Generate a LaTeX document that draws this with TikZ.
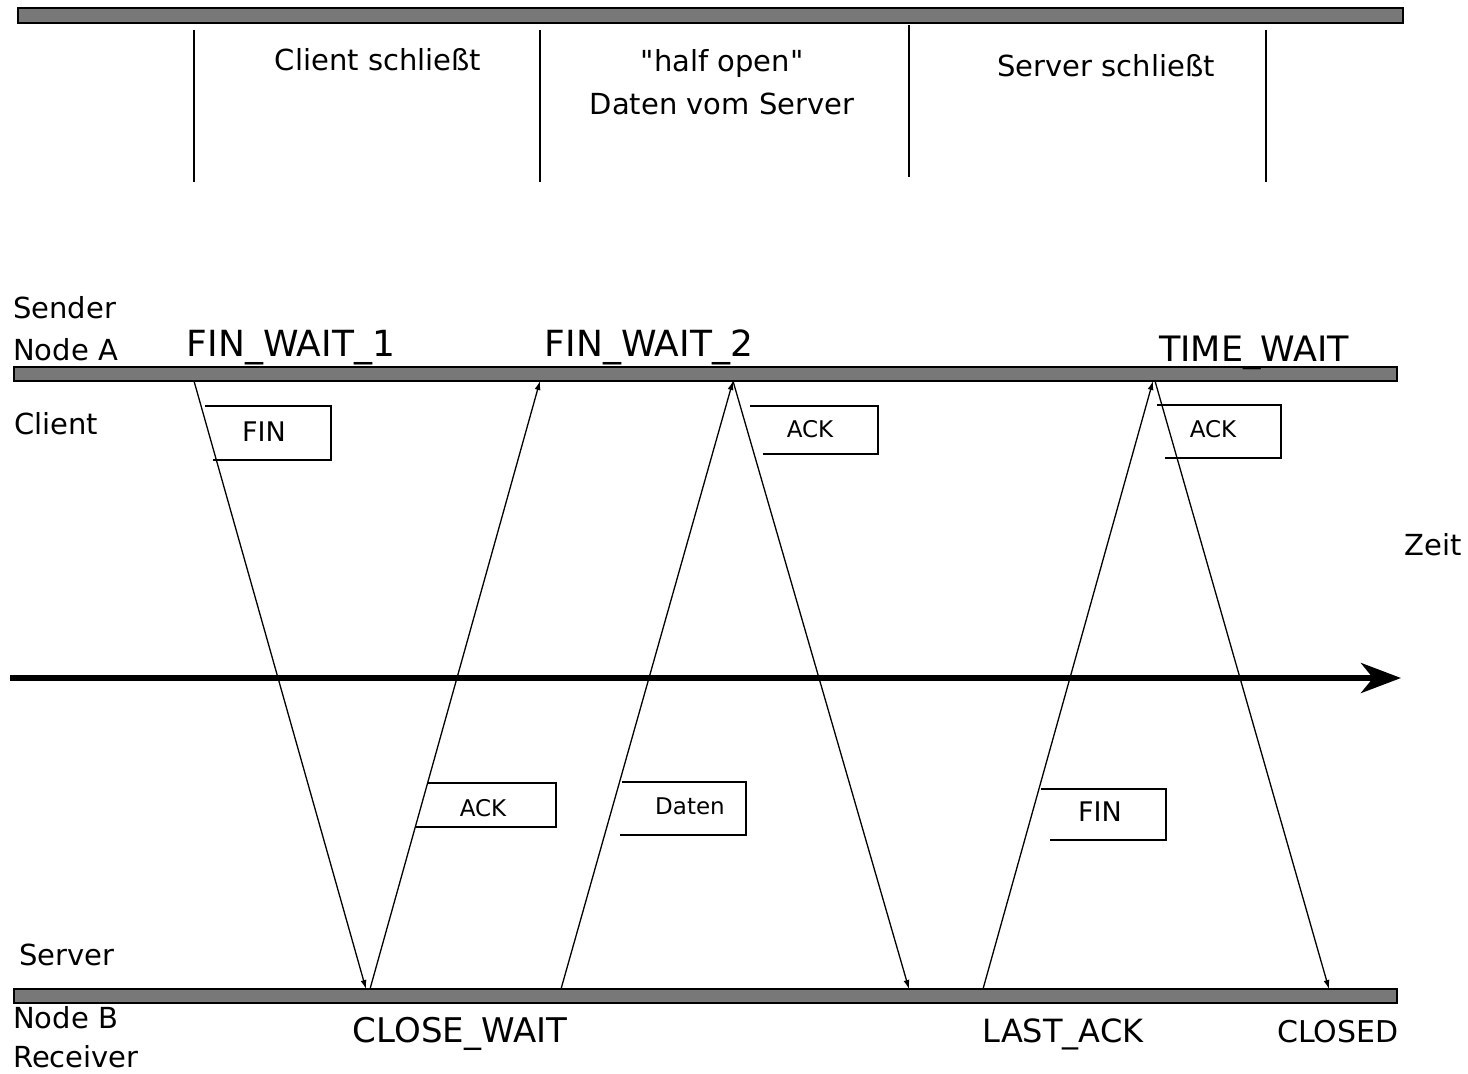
\documentclass[tikz,border=0pt]{standalone}
\usepackage{fontspec}
\setmainfont{DejaVu Sans}[Ligatures=TeXOff]
\usepackage{tikz}
\usetikzlibrary{arrows.meta}
\definecolor{bargray}{RGB}{120,120,120}

\begin{document}
\begin{tikzpicture}[x=1pt,y=-1pt,
        bar/.style={draw=black, line width=1.6pt, fill=bargray},
        sep/.style={line width=2.6pt},
        msg/.style={line width=1.3pt, -{Latex[length=9pt,width=6pt]}},
        tag/.style={line width=1.8pt},
        big/.style={inner sep=0pt, font=\fontsize{29}{43}\selectfont},
        state/.style={inner sep=0pt, anchor=base, font=\fontsize{#1}{40}\selectfont},
        small/.style={inner sep=0pt, font=\fontsize{#1}{28}\selectfont}]
        \useasboundingbox (0,0) rectangle (1468,1074);

        % phases
        \draw[bar] (18,8) rectangle (1403,23);
        \foreach \x/\a/\b in {194/30/182, 540/30/182, 909/25/177, 1266/30/182}
            \draw[sep] (\x,\a) -- (\x,\b);
        \node[big] (hdclient) at (378,60) {Client schließt};
        \node[big, align=center] (hdhalf) at (722,82) {"half open"\\Daten vom Server};
        \node[big] (hdserver) at (1106,66) {Server schließt};

        % the two nodes
        \draw[bar] (14,367) rectangle (1397,381);
        \draw[bar] (14,989) rectangle (1397,1003);
        \node[big, anchor=west] (sender) at (13,308) {Sender};
        \node[big, anchor=west] (nodeA) at (13,350) {Node A};
        \node[big, anchor=west] (client) at (14,424) {Client};
        \node[big, anchor=west] (server) at (19,955) {Server};
        \node[big, anchor=west] (nodeB) at (13,1018) {Node B};
        \node[big, anchor=west] (receiver) at (13,1057) {Receiver};

        % states
        \node[state=36] (finwait1) at (291,356) {FIN\_WAIT\_1};
        \node[state=36] (finwait2) at (649,356) {FIN\_WAIT\_2};
        \node[state=35] (timewait) at (1254,361) {TIME\_WAIT};
        \node[state=34] (closewait) at (460,1042) {CLOSE\_WAIT};
        \node[state=32] (lastack) at (1063,1042) {LAST\_ACK};
        \node[state=30] (closed) at (1338,1042) {CLOSED};

        % time axis
        \coordinate (t0) at (10,678);
        \coordinate (t1) at (1401,678);
        \draw[line width=5.5pt, -{Stealth[length=40pt,width=30pt,inset=12pt]}] (t0) -- (t1);
        \node[big] (zeit) at (1433,545) {Zeit};

        % segments
        \coordinate (a1) at (194,381);  \coordinate (b1) at (366,989);
        \coordinate (b2) at (370,989);  \coordinate (a2) at (540,381);
        \coordinate (b3) at (561,989);  \coordinate (a3) at (733,381);
        \coordinate (b4) at (909,989);
        \coordinate (b5) at (983,989);  \coordinate (a5) at (1153,381);
        \coordinate (a6) at (1155,381); \coordinate (b6) at (1329,989);
        \draw[msg] (a1) -- (b1);
        \draw[msg] (b2) -- (a2);
        \draw[msg] (b3) -- (a3);
        \draw[msg] (a3) -- (b4);
        \draw[msg] (b5) -- (a5);
        \draw[msg] (a6) -- (b6);

        % flags
        \draw[tag] (205,406) -| (331,460) -- (213,460);
        \node[small=27] (fin1) at (264,432) {FIN};
        \draw[tag] (428,783) -| (556,827) -- (416,827);
        \node[small=23] (ack1) at (483,808) {ACK};
        \draw[tag] (622,782) -| (746,835) -- (620,835);
        \node[small=23] (daten) at (690,806) {Daten};
        \draw[tag] (750,406) -| (878,454) -- (763,454);
        \node[small=23] (ack2) at (810,429) {ACK};
        \draw[tag] (1041,789) -| (1166,840) -- (1050,840);
        \node[small=27] (fin2) at (1100,812) {FIN};
        \draw[tag] (1157,405) -| (1281,458) -- (1165,458);
        \node[small=23] (ack3) at (1213,429) {ACK};
    \end{tikzpicture}
\end{document}
